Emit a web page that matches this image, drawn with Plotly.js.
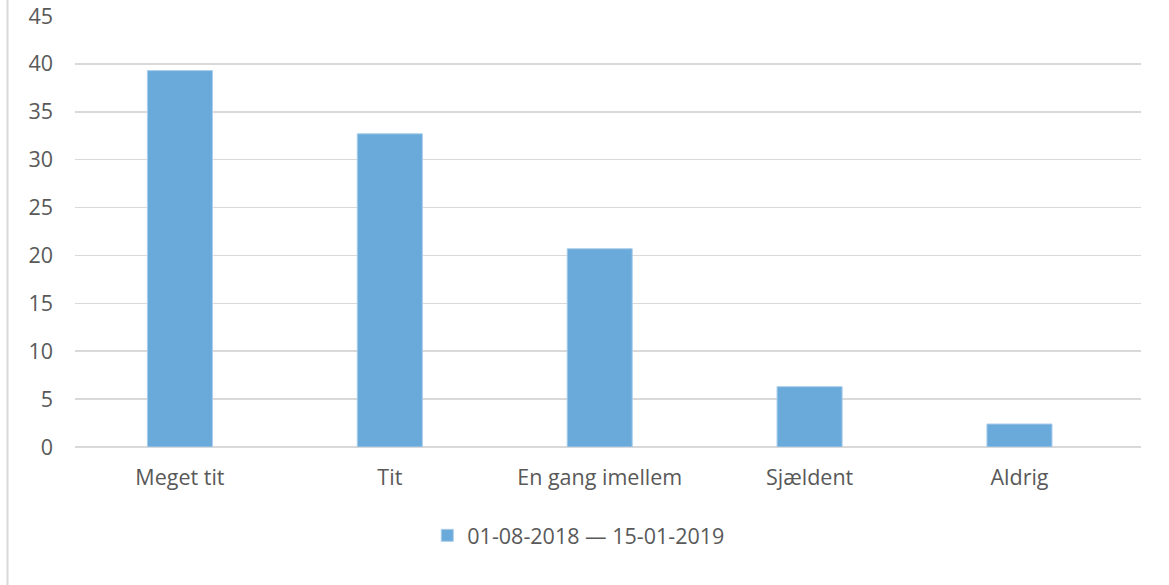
<!DOCTYPE html>
<html>
<head>
<meta charset="utf-8">
<script src="https://cdn.plot.ly/plotly-3.0.1.min.js"></script>
<style>html,body{margin:0;padding:0;background:#fff;}#chart{width:1169px;height:585px;}</style>
</head>
<body>
<div id="chart"></div>
<script>
const categories = ["Meget tit", "Tit", "En gang imellem", "Sjældent", "Aldrig"];
const values = [39.3, 32.7, 20.7, 6.3, 2.4];
const seriesName = "01-08-2018 \u2014 15-01-2019";
const yTicks = [0, 5, 10, 15, 20, 25, 30, 35, 40, 45];

const textColor = "#595959";
const gridColor = "#d9d9d9";
const fontFamily = "'Open Sans', 'DejaVu Sans', sans-serif";
const fs = 21.5;

const trace = {
  type: "bar",
  x: categories,
  y: values,
  name: seriesName,
  marker: {color: "#6aaadb", line: {color: "#a9cdeb", width: 1}},
  showlegend: true,
  hoverinfo: "x+y"
};

const layout = {
  width: 1169,
  height: 585,
  margin: {l: 75, r: 28, t: 16, b: 138},
  paper_bgcolor: "#ffffff",
  plot_bgcolor: "#ffffff",
  font: {family: fontFamily, size: fs, color: textColor},
  bargap: 0.69,
  showlegend: true,
  xaxis: {
    type: "category",
    range: [-0.5, 4.579],
    showgrid: false,
    showline: false,
    zeroline: false,
    ticks: "",
    ticklabelstandoff: 15,
    tickfont: {family: fontFamily, size: fs, color: textColor}
  },
  yaxis: {
    range: [0, 45],
    tickvals: yTicks,
    ticktext: yTicks.map(String),
    showgrid: true,
    gridcolor: gridColor,
    gridwidth: 1.5,
    zeroline: true,
    zerolinecolor: gridColor,
    zerolinewidth: 1.5,
    showline: false,
    ticks: "",
    ticklabelstandoff: 21,
    tickfont: {family: fontFamily, size: fs, color: textColor}
  },
  legend: {
    orientation: "h",
    x: 0.4726,
    xanchor: "center",
    y: -0.205,
    yanchor: "middle",
    font: {family: fontFamily, size: fs, color: textColor},
    itemwidth: 30
  },
  shapes: [{
    type: "line",
    xref: "paper", yref: "paper",
    x0: -0.0633, x1: -0.0633,
    y0: -0.32, y1: 1.037,
    line: {color: gridColor, width: 2}
  }]
};

Plotly.newPlot("chart", [trace], layout, {displayModeBar: false, staticPlot: true});
</script>
</body>
</html>
